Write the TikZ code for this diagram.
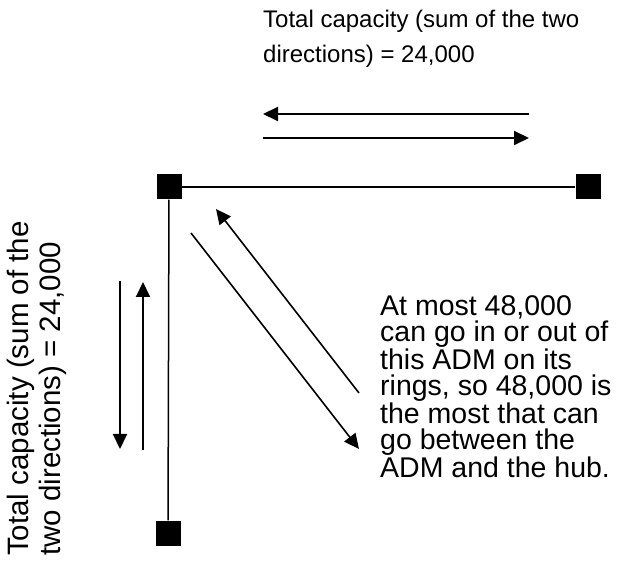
\documentclass[tikz,border=0pt]{standalone}
\usepackage{fontspec}
\setmainfont{Liberation Sans}
\usetikzlibrary{arrows.meta}
\tikzset{
  adm/.style={fill=black, draw=none, minimum size=25pt, inner sep=0pt},
  link/.style={line width=1.5pt},
  flow/.style={line width=2pt, -{Triangle[length=15pt,width=14pt]}},
  diag/.style={line width=1.6pt, -{Triangle[length=15pt,width=14pt]}},
  lbl/.style={inner sep=0pt, align=left},
}
\begin{document}
\begin{tikzpicture}[x=1pt,y=-1pt]
\useasboundingbox (0,0) rectangle (619,561);
% ADMs
\node[adm] (tl) at (169,187) {};
\node[adm] (tr) at (588,187) {};
\node[adm] (bl) at (168,533) {};
\draw[link] (tl) -- (tr);
\draw[link] (tl) -- (bl);
% horizontal arrows
\coordinate (h1s) at (529,114); \coordinate (h1e) at (263,114);
\coordinate (h2s) at (263,138); \coordinate (h2e) at (529,138);
\draw[flow] (h1s) -- (h1e);
\draw[flow] (h2s) -- (h2e);
% vertical arrows
\coordinate (v1s) at (120,281); \coordinate (v1e) at (120,449);
\coordinate (v2s) at (143,450); \coordinate (v2e) at (143,282);
\draw[flow] (v1s) -- (v1e);
\draw[flow] (v2s) -- (v2e);
% diagonal arrows
\coordinate (d1s) at (359,393); \coordinate (d1e) at (216,209);
\coordinate (d2s) at (191,233); \coordinate (d2e) at (359,449);
\draw[diag] (d1s) -- (d1e);
\draw[diag] (d2s) -- (d2e);
% labels
\node[lbl, anchor=base west, font=\fontsize{24}{35}\selectfont] (ttop) at (263,63)
  {Total capacity (sum of the two\\directions) = 24,000};
\node[lbl, anchor=base west, rotate=90, font=\fontsize{29.5}{32}\selectfont] (tleft) at (60,556)
  {Total capacity (sum of the\\two directions) = 24,000};
\node[lbl, anchor=base west, font=\fontsize{28.5}{26.2}\selectfont] (tright) at (380,477)
  {At most 48,000\\can go in or out of\\this ADM on its\\rings, so 48,000 is\\the most that can\\go between the\\ADM and the hub.};
\end{tikzpicture}
\end{document}
